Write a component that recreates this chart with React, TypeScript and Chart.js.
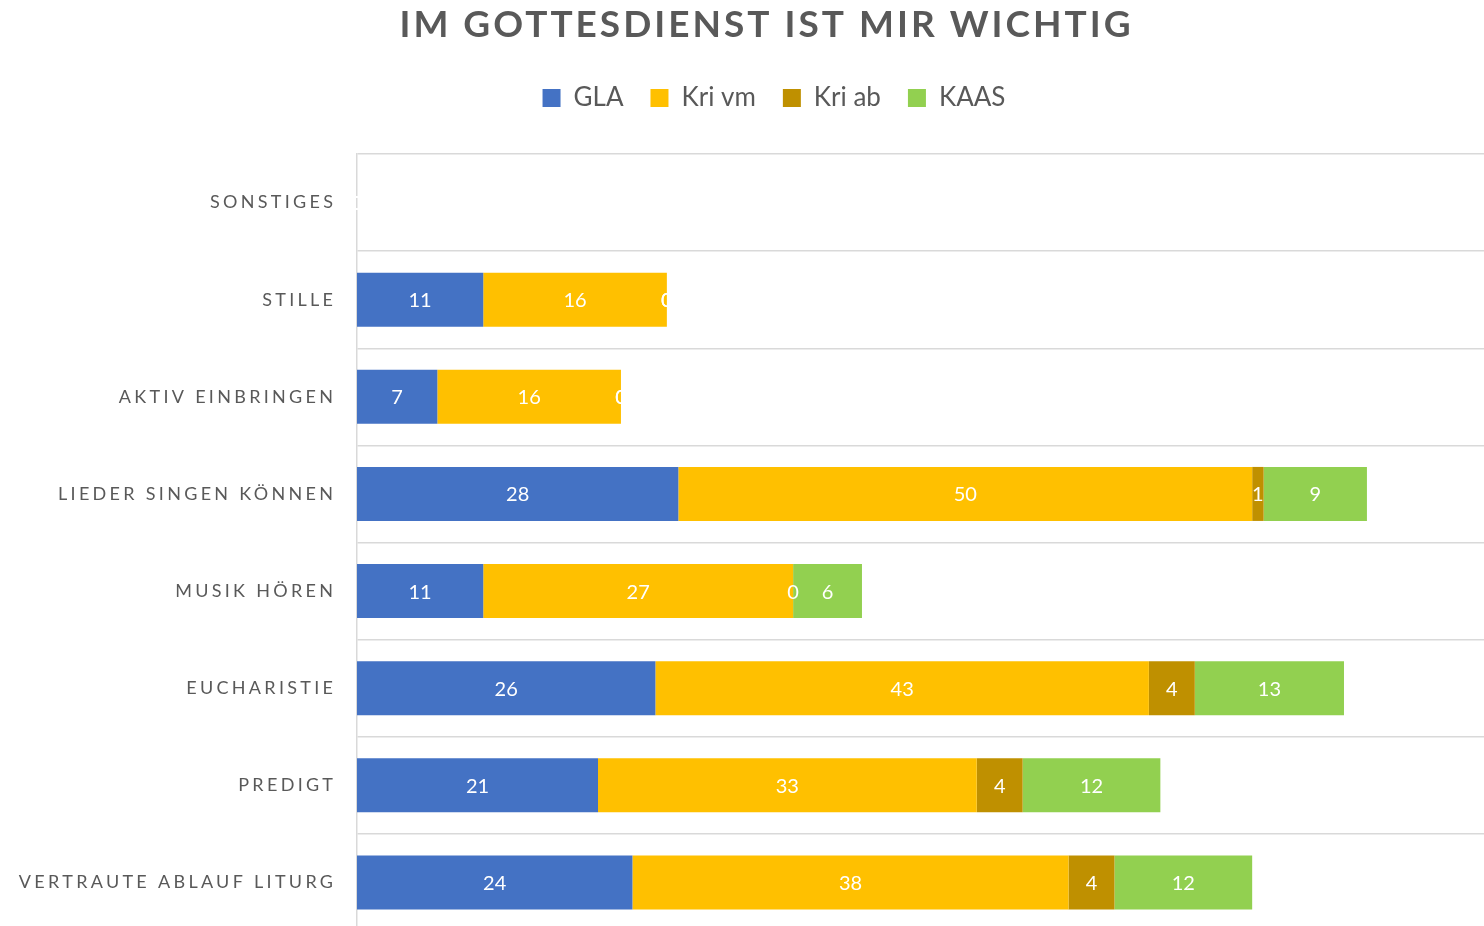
import React, { useEffect, useRef } from 'react';
import { Chart, registerables } from 'chart.js';

Chart.register(...registerables);

const categories = [
  'SONSTIGES',
  'STILLE',
  'AKTIV EINBRINGEN',
  'LIEDER SINGEN KÖNNEN',
  'MUSIK HÖREN',
  'EUCHARISTIE',
  'PREDIGT',
  'VERTRAUTE ABLAUF LITURG',
];
const gla = [0, 11, 7, 28, 11, 26, 21, 24];
const kriVm = [0, 16, 16, 50, 27, 43, 33, 38];
const kriAb = [0, 0, 0, 1, 0, 4, 4, 4];
const kaas = [0, 0, 0, 9, 6, 13, 12, 12];
const seriesNames = ['GLA', 'Kri vm', 'Kri ab', 'KAAS'];
const seriesColors = ['#4472C4', '#FFC000', '#BF9000', '#92D050'];
const chartTitle = 'IM GOTTESDIENST IST MIR WICHTIG';

const FONT = 'Lato, "Open Sans", sans-serif';
const TEXT_GRAY = '#595959';

const textPlugin = {
  id: 'customText',
  afterDraw(chart: any) {
    const ctx = chart.ctx as CanvasRenderingContext2D;
    // data labels
    ctx.save();
    ctx.font = `20px ${FONT}`;
    ctx.fillStyle = '#ffffff';
    ctx.textAlign = 'center';
    ctx.textBaseline = 'middle';
    chart.data.datasets.forEach((ds: any, di: number) => {
      const meta = chart.getDatasetMeta(di);
      meta.data.forEach((bar: any, i: number) => {
        const v = ds.data[i];
        if (v === null || v === undefined) return;
        const p = bar.getProps(['x', 'base', 'y'], true);
        ctx.fillText(String(v), (p.x + p.base) / 2, p.y + 1);
      });
    });
    ctx.restore();

    // category labels
    ctx.save();
    const yScale = chart.scales.y;
    ctx.font = `18px ${FONT}`;
    (ctx as any).letterSpacing = '3.3px';
    ctx.fillStyle = TEXT_GRAY;
    ctx.textAlign = 'right';
    ctx.textBaseline = 'middle';
    categories.forEach((c, i) => {
      ctx.fillText(c, 336.3, yScale.getPixelForValue(i));
    });
    ctx.restore();

    // title
    ctx.save();
    ctx.font = `bold 37px ${FONT}`;
    (ctx as any).letterSpacing = '3px';
    ctx.fillStyle = TEXT_GRAY;
    ctx.textAlign = 'center';
    ctx.textBaseline = 'middle';
    ctx.fillText(chartTitle, 766.5, 25);
    ctx.restore();
  },
};

export default function App() {
  const canvasRef = useRef<HTMLCanvasElement | null>(null);

  useEffect(() => {
    if (!canvasRef.current) return;
    const values = [gla, kriVm, kriAb, kaas];
    const chart = new Chart(canvasRef.current, {
      type: 'bar',
      data: {
        labels: categories,
        datasets: seriesNames.map((name, i) => ({
          label: name,
          data: values[i],
          backgroundColor: seriesColors[i],
          borderWidth: 0,
          barPercentage: 0.556,
          categoryPercentage: 1,
        })),
      },
      options: {
        indexAxis: 'y',
        responsive: false,
        animation: false,
        devicePixelRatio: 1,
        layout: { padding: { top: 58, left: 64, right: 0, bottom: 0 } },
        plugins: {
          tooltip: { enabled: false },
          title: { display: false },
          legend: {
            display: true,
            position: 'top',
            align: 'center',
            labels: {
              font: { family: FONT, size: 26 },
              color: TEXT_GRAY,
              boxWidth: 18,
              boxHeight: 18,
              padding: 27,
            },
          },
        },
        scales: {
          x: {
            stacked: true,
            min: 0,
            max: 98.2,
            position: 'top',
            grid: { display: false },
            border: { display: false },
            ticks: { display: false },
            afterFit: (s: any) => {
              s.height = 33;
            },
          },
          y: {
            stacked: true,
            offset: true,
            grid: {
              offset: true,
              color: '#d9d9d9',
              lineWidth: 1.5,
              drawTicks: false,
            },
            border: { display: true, color: '#d9d9d9', width: 1.5 },
            ticks: { display: false },
            afterFit: (s: any) => {
              s.width = 293;
            },
          },
        },
      },
      plugins: [textPlugin],
    });
    return () => chart.destroy();
  }, []);

  return (
    <div
      style={{
        position: 'fixed',
        left: 0,
        top: 0,
        width: 1484,
        height: 926,
        overflow: 'hidden',
        background: '#ffffff',
      }}
    >
      <canvas ref={canvasRef} width={1484} height={931} style={{ display: 'block' }} />
    </div>
  );
}
